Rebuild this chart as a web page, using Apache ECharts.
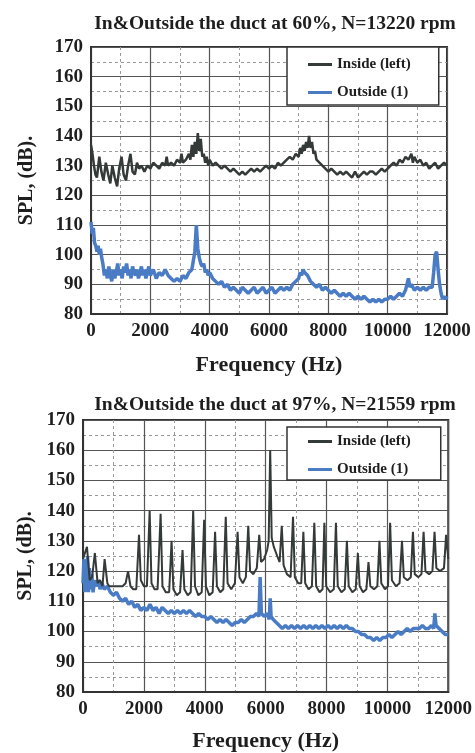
<!DOCTYPE html>
<html>
<head>
<meta charset="utf-8">
<script src="https://cdn.jsdelivr.net/npm/echarts@6/dist/echarts.min.js"></script>
<style>
  html, body { margin: 0; padding: 0; background: #fff; }
  #chart { width: 475px; height: 753px; }
</style>
</head>
<body>
<div id="chart"></div>
<script>
// 标题与图例
var titles = ['In&Outside the duct at 60%, N=13220 rpm', 'In&Outside the duct at 97%, N=21559 rpm'];
var seriesNames = ['Inside (left)', 'Outside (1)'];
var yTicks = { min: 80, max: 170, interval: 10 };
var xTicks = { min: 0, max: 12000, interval: 2000 };

// 60% 工况 - 管内 [频率 Hz, dB]
var inside60 = [
  [0,137],[50,134],[100,130],[150,127],[200,126],[280,133],[350,128],[420,125],[500,131],[580,127],
  [650,124],[720,130],[800,126],[880,123],[950,129],[1030,133],[1100,127],[1180,125],[1250,130],[1330,134],
  [1400,128],[1480,127],[1550,131],[1620,129],[1700,130],[1800,128],[1900,130],[2000,129],[2100,131],[2200,130],
  [2300,129],[2400,131],[2500,130],[2550,133],[2600,130],[2700,131],[2800,130],[2900,132],[3000,131],[3050,134],
  [3100,131],[3200,132],[3300,134],[3350,132],[3400,137],[3450,133],[3500,138],[3550,134],[3600,141],[3650,135],
  [3700,139],[3750,133],[3800,134],[3850,131],[3900,133],[3950,130],[4000,132],[4100,130],[4200,131],[4300,130],
  [4400,129],[4500,130],[4600,129],[4700,128],[4800,129],[4900,128],[5000,127],[5100,128],[5200,127],[5300,128],
  [5400,129],[5500,128],[5600,129],[5700,128],[5800,129],[5900,130],[6000,129],[6100,130],[6200,129],[6300,131],
  [6400,130],[6500,131],[6600,132],[6700,133],[6800,132],[6900,134],[7000,133],[7050,136],[7100,134],[7150,137],
  [7200,135],[7250,138],[7300,136],[7350,140],[7400,136],[7450,138],[7500,134],[7550,135],[7600,132],[7700,131],
  [7800,130],[7900,129],[8000,128],[8100,129],[8200,128],[8300,127],[8400,128],[8500,127],[8600,128],[8700,127],
  [8800,126],[8900,128],[9000,126],[9100,127],[9200,128],[9300,127],[9400,128],[9500,128],[9600,127],[9700,128],
  [9800,129],[9900,128],[10000,129],[10100,130],[10200,131],[10300,130],[10400,132],[10500,131],[10600,133],[10700,132],
  [10800,134],[10850,131],[10900,133],[11000,131],[11100,132],[11200,130],[11300,131],[11400,129],[11500,130],[11600,131],
  [11700,129],[11800,130],[11900,131],[12000,130]
];

// 60% 工况 - 管外
var outside60 = [
  [0,111],[40,107],[80,109],[120,104],[160,103],[200,101],[240,103],[280,100],[320,102],[360,99],
  [400,97],[450,93],[500,95],[550,92],[600,96],[650,93],[700,91],[750,95],[800,92],[850,94],
  [900,97],[950,93],[1000,95],[1050,92],[1100,96],[1150,94],[1200,97],[1250,93],[1300,95],[1350,92],
  [1400,96],[1450,94],[1500,93],[1550,95],[1600,92],[1650,94],[1700,96],[1750,93],[1800,95],[1850,92],
  [1900,94],[1950,96],[2000,93],[2100,95],[2200,92],[2300,94],[2400,93],[2500,95],[2600,93],[2700,92],
  [2800,91],[2900,92],[3000,91],[3100,93],[3200,92],[3300,94],[3400,95],[3450,98],[3500,101],[3550,110],
  [3600,102],[3650,99],[3700,97],[3750,96],[3800,97],[3850,94],[3900,95],[3950,93],[4000,94],[4100,92],
  [4200,91],[4300,90],[4400,91],[4500,89],[4600,90],[4700,88],[4800,89],[4900,88],[5000,87],[5100,89],
  [5200,88],[5300,87],[5400,88],[5500,89],[5600,87],[5700,88],[5800,89],[5900,87],[6000,88],[6100,89],
  [6200,87],[6300,88],[6400,89],[6500,88],[6600,89],[6700,88],[6800,90],[6900,91],[7000,92],[7050,94],
  [7100,93],[7150,95],[7200,94],[7300,93],[7400,91],[7500,90],[7600,89],[7700,90],[7800,88],[7900,89],
  [8000,88],[8100,87],[8200,88],[8300,87],[8400,86],[8500,87],[8600,86],[8700,87],[8800,86],[8900,85],
  [9000,86],[9100,85],[9200,86],[9300,85],[9400,84],[9500,85],[9600,84],[9700,85],[9800,84],[9900,85],
  [10000,85],[10100,86],[10200,85],[10300,86],[10400,87],[10500,86],[10600,88],[10650,90],[10700,92],[10750,89],
  [10800,90],[10900,88],[11000,89],[11100,88],[11200,89],[11300,88],[11400,89],[11500,89],[11550,94],[11600,100],
  [11650,101],[11700,95],[11750,90],[11800,87],[11850,85],[11900,86],[11950,85],[12000,86]
];

// 97% 工况 - 管内
var inside97 = [
  [0,124],[130,128],[220,117],[300,118],[390,126],[480,116],[560,117],[640,115],[710,124],[800,116],
  [860,115],[1000,115],[1150,115],[1300,115],[1400,116],[1480,120],[1560,115],[1650,114],
  [1750,114],[1840,132],[1900,117],[2000,115],[2100,115],[2190,140],[2250,116],[2350,114],[2450,114],[2550,139],
  [2610,115],[2720,113],[2830,113],[2910,130],[2970,114],[3080,112],[3190,113],[3270,127],[3330,114],[3440,112],
  [3540,113],[3620,140],[3680,115],[3790,112],[3900,113],[3980,137],[4040,115],[4150,112],[4260,113],[4340,133],
  [4400,115],[4510,113],[4610,114],[4690,138],[4750,116],[4870,114],[4990,116],[5080,133],[5140,118],[5250,116],
  [5350,118],[5430,135],[5490,120],[5600,119],[5710,121],[5790,132],[5850,123],[5950,124],[6050,127],[6100,130],
  [6150,160],[6200,131],[6270,128],[6380,125],[6460,123],[6530,135],[6590,122],[6700,119],[6820,118],[6900,138],
  [6960,118],[7070,116],[7170,116],[7240,133],[7300,116],[7410,114],[7520,115],[7600,136],[7660,115],[7770,113],
  [7870,114],[7930,136],[7990,115],[8120,113],[8240,114],[8310,136],[8370,115],[8490,113],[8600,114],[8670,130],
  [8730,115],[8850,113],[8960,114],[9030,126],[9090,115],[9200,113],[9310,114],[9380,123],[9440,115],[9560,114],
  [9670,115],[9740,130],[9800,116],[9920,114],[10020,115],[10090,136],[10150,117],[10280,115],[10400,116],[10480,130],
  [10540,118],[10660,117],[10770,118],[10840,133],[10900,119],[11020,118],[11120,119],[11190,133],[11250,120],[11370,119],
  [11480,120],[11550,133],[11610,121],[11730,120],[11860,121],[11930,132],[12000,124]
];

// 97% 工况 - 管外
var outside97 = [
  [0,116],[30,124],[60,113],[90,122],[120,114],[150,125],[180,113],[210,121],[250,114],[290,119],
  [330,113],[380,117],[430,115],[500,117],[560,114],[620,116],[700,114],[800,115],[900,113],[1000,112],
  [1100,113],[1200,111],[1300,110],[1400,111],[1500,109],[1600,110],[1700,108],[1800,109],[1900,107],[2000,108],
  [2100,107],[2200,109],[2300,107],[2400,108],[2500,106],[2600,108],[2700,107],[2800,106],[2900,107],[3000,106],
  [3100,107],[3200,106],[3300,107],[3400,106],[3500,107],[3600,106],[3700,105],[3800,106],[3900,105],[4000,105],
  [4100,104],[4200,105],[4300,104],[4400,103],[4500,104],[4600,103],[4700,104],[4800,103],[4900,102],[5000,103],
  [5100,103],[5200,104],[5300,103],[5400,104],[5500,105],[5600,105],[5700,106],[5780,105],[5820,118],[5860,106],
  [5950,105],[6050,106],[6120,104],[6150,111],[6180,105],[6250,104],[6350,103],[6450,102],[6550,101],[6650,102],
  [6750,101],[6850,102],[6950,101],[7050,102],[7150,101],[7250,102],[7350,101],[7450,102],[7550,101],[7650,102],
  [7750,101],[7850,102],[7950,101],[8050,102],[8150,101],[8250,102],[8350,101],[8450,102],[8550,101],[8650,102],
  [8750,101],[8850,101],[8950,100],[9050,100],[9150,99],[9250,99],[9350,98],[9450,98],[9550,97],[9650,98],
  [9750,97],[9850,98],[9950,98],[10050,99],[10150,98],[10250,99],[10350,100],[10450,99],[10550,100],[10650,101],
  [10750,100],[10850,101],[10950,101],[11050,101],[11150,102],[11250,101],[11350,101],[11450,102],[11520,101],[11560,106],
  [11600,102],[11700,101],[11800,100],[11900,99],[12000,99]
];

var FONT = '"Liberation Serif", "DejaVu Serif", serif';
var TEXT = '#1e1e1e';
var DARK = '#343a37';
var BLUE = '#4a7cc6';

var chart = echarts.init(document.getElementById('chart'));

// 两个子图共用的坐标轴样式
function xAxisOf(gridIndex, nameGap) {
  return {
    type: 'value', gridIndex: gridIndex,
    min: xTicks.min, max: xTicks.max, interval: xTicks.interval,
    name: 'Frequency (Hz)', nameLocation: 'middle', nameGap: nameGap,
    nameTextStyle: { fontFamily: FONT, fontWeight: 'bold', fontSize: 22, color: TEXT },
    axisLine: { lineStyle: { color: '#333', width: 2 } },
    axisTick: { show: false },
    axisLabel: {
      fontFamily: FONT, fontWeight: 'bold', fontSize: 19, color: TEXT, margin: 8,
      formatter: function (v) { return String(v); }
    },
    splitLine: { show: true, lineStyle: { color: '#555', width: 1.2 } },
    minorTick: { show: false, splitNumber: 2 },
    minorSplitLine: { show: true, lineStyle: { color: '#999', type: [3, 3] } }
  };
}
function yAxisOf(gridIndex, nameGap) {
  return {
    type: 'value', gridIndex: gridIndex,
    min: yTicks.min, max: yTicks.max, interval: yTicks.interval,
    name: 'SPL, (dB).', nameLocation: 'middle', nameGap: nameGap,
    nameTextStyle: { fontFamily: FONT, fontWeight: 'bold', fontSize: 20, color: TEXT },
    axisLine: { show: true, lineStyle: { color: '#333', width: 2 } },
    axisTick: { show: false },
    axisLabel: { fontFamily: FONT, fontWeight: 'bold', fontSize: 19, color: TEXT, margin: 8 },
    splitLine: { show: true, lineStyle: { color: '#555', width: 1.2 } },
    minorTick: { show: false, splitNumber: 2 },
    minorSplitLine: { show: true, lineStyle: { color: '#999', type: [3, 3] } }
  };
}
function legendOf(top, padding) {
  return {
    left: 287, top: top, orient: 'vertical', align: 'left',
    data: seriesNames, icon: 'rect', itemWidth: 24, itemHeight: 3, itemGap: 13,
    padding: padding, backgroundColor: '#fff', borderColor: '#333', borderWidth: 1.5,
    textStyle: { fontFamily: FONT, fontWeight: 'bold', fontSize: 15, color: TEXT }
  };
}
function titleOf(text, top) {
  return {
    text: text, left: 270, top: top, textAlign: 'center',
    textStyle: { fontFamily: FONT, fontWeight: 'bold', fontSize: 19.5, color: TEXT }
  };
}
function lineOf(name, data, axisIndex, color, width) {
  return {
    name: name, type: 'line', data: data, xAxisIndex: axisIndex, yAxisIndex: axisIndex,
    symbol: 'none', color: color, lineStyle: { color: color, width: width }, z: 3
  };
}

var options = {
  animation: false,
  backgroundColor: '#fff',
  title: [titleOf(titles[0], 9), titleOf(titles[1], 390)],
  legend: [legendOf(47, [10, 28, 5, 21]), legendOf(427, [7, 30, 3, 21])],
  grid: [
    { left: 91, top: 47, width: 356, height: 267, show: true, borderColor: '#333', borderWidth: 2 },
    { left: 83, top: 420, width: 371, height: 275, show: true, borderColor: '#333', borderWidth: 2 }
  ],
  xAxis: [xAxisOf(0, 40), xAxisOf(1, 38)],
  yAxis: [yAxisOf(0, 54), yAxisOf(1, 46)],
  series: [
    lineOf(seriesNames[1], outside60, 0, BLUE, 3.5),
    lineOf(seriesNames[0], inside60, 0, DARK, 2.5),
    lineOf(seriesNames[1], outside97, 1, BLUE, 3.5),
    lineOf(seriesNames[0], inside97, 1, DARK, 2)
  ]
};

chart.setOption(options);
</script>
</body>
</html>
